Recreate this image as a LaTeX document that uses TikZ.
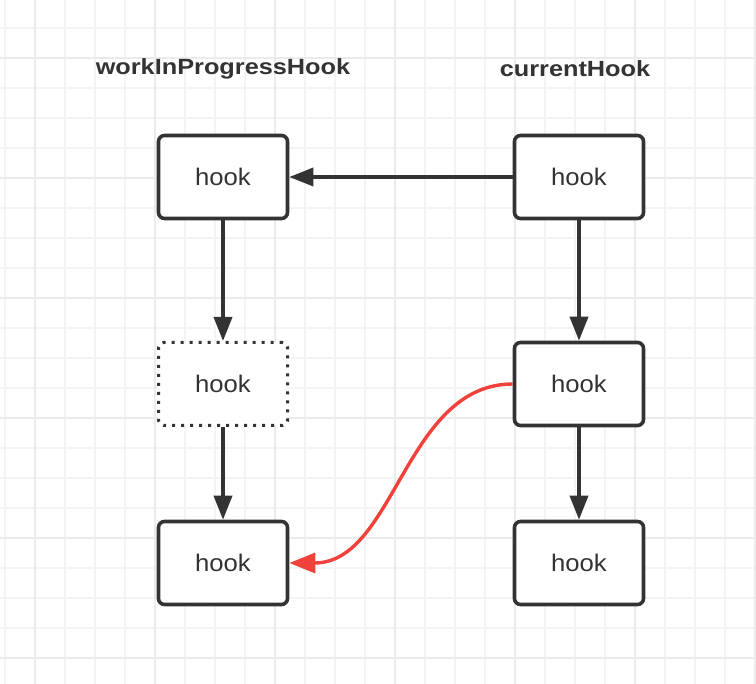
\documentclass[tikz,border=0pt]{standalone}
\usepackage{fontspec}
\setmainfont{Liberation Sans}
\newfontfamily\titlefont[FakeStretch=1.15]{Liberation Sans}
\newfontfamily\hookfont[FakeStretch=1.07]{Liberation Sans}
\usetikzlibrary{arrows.meta}
\definecolor{ink}{HTML}{333333}
\definecolor{redline}{HTML}{F0423A}
\definecolor{gridminor}{HTML}{F4F4F4}
\definecolor{gridmajor}{HTML}{EBEBEB}
\tikzset{
  hookbox/.style={draw=ink, line width=3.6pt, rounded corners=6pt, fill=white,
    minimum width=129pt, minimum height=83pt, inner sep=0pt,
    font=\hookfont\fontsize{24}{28}\selectfont, text=ink},
  dotbox/.style={hookbox, draw=ink, line width=3pt, dash pattern=on 3pt off 6pt, rounded corners=5pt},
  title/.style={font=\titlefont\bfseries\fontsize{22}{26}\selectfont, text=ink},
  conn/.style={draw=ink, line width=3.6pt, -{Triangle[length=24pt,width=18pt]}},
  redconn/.style={draw=redline, line width=3.4pt, -{Triangle[length=26pt,width=20pt]}}
}
\begin{document}
\begin{tikzpicture}[x=1pt,y=-1pt]
\useasboundingbox (0,0) rectangle (756,684);
\fill[white] (0,0) rectangle (756,684);
% grid
\foreach \x in {5,35,...,755} \draw[gridminor, line width=1.5pt] (\x,0) -- (\x,684);
\foreach \y in {28,58,...,684} \draw[gridminor, line width=1.5pt] (0,\y) -- (756,\y);
\foreach \x in {35,155,...,755} \draw[gridmajor, line width=2pt] (\x,0) -- (\x,684);
\foreach \y in {58,178,...,684} \draw[gridmajor, line width=2pt] (0,\y) -- (756,\y);
% titles
\node[title] (t1) at (223,69) {workInProgressHook};
\node[title] (t2) at (575,69) {currentHook};
% boxes
\node[hookbox] (a1) at (223,177) {hook};
\node[dotbox]  (a2) at (223,384) {hook};
\node[hookbox] (a3) at (223,563) {hook};
\node[hookbox] (b1) at (579,177) {hook};
\node[hookbox] (b2) at (579,384) {hook};
\node[hookbox] (b3) at (579,563) {hook};
% connectors
\draw[conn] (b1.west) -- (a1.east);
\draw[conn] (a1.south) -- (a2.north);
\draw[conn] (a2.south) -- (a3.north);
\draw[conn] (b1.south) -- (b2.north);
\draw[conn] (b2.south) -- (b3.north);
\draw[redconn] (b2.west) .. controls (405,384) and (395,563) .. (a3.east);
\end{tikzpicture}
\end{document}
